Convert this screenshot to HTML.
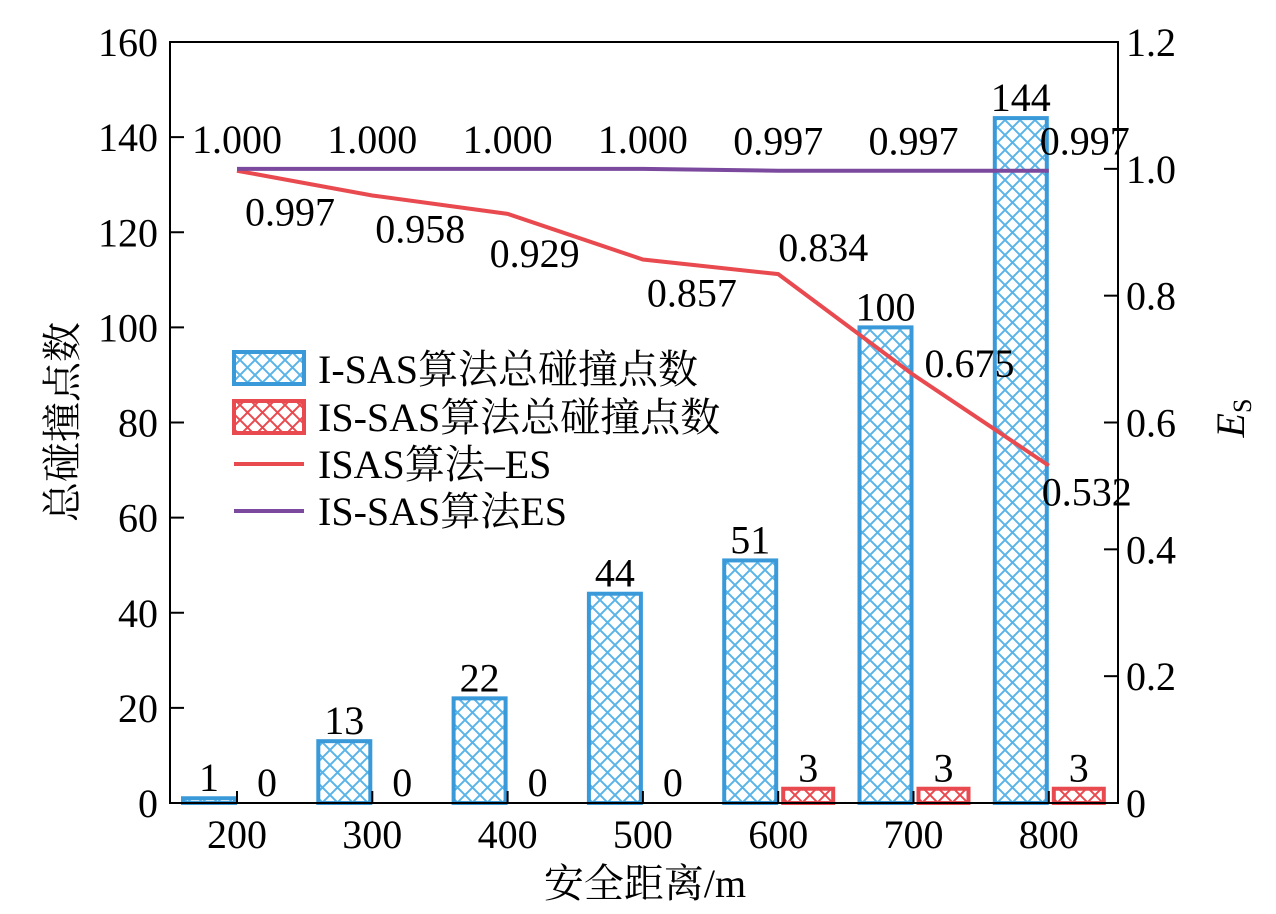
<!DOCTYPE html>
<html><head><meta charset="utf-8"><style>
body{margin:0;background:#fff}
svg text{font-family:"Liberation Serif","Noto Serif CJK SC",serif;fill:#000}
</style></head><body>
<svg id="c" width="1276" height="909" xmlns="http://www.w3.org/2000/svg">
<defs>
<pattern id="hb" width="15" height="15" patternUnits="userSpaceOnUse"><path d="M0,0L15,15M15,0L0,15" stroke="#5ab4e8" stroke-width="2"/></pattern>
<pattern id="hr" width="15" height="15" patternUnits="userSpaceOnUse"><path d="M0,0L15,15M15,0L0,15" stroke="#e84a4f" stroke-width="2"/></pattern>
</defs>
<g id="g"></g>
</svg>
<script>
const categories=[200,300,400,500,600,700,800];
const isasCounts=[1,13,22,44,51,100,144];
const issasCounts=[0,0,0,0,3,3,3];
const isasES=[0.997,0.958,0.929,0.857,0.834,0.675,0.532];
const issasES=[1.000,1.000,1.000,1.000,0.997,0.997,0.997];
const leftTicks=[0,20,40,60,80,100,120,140,160];
const rightTicks=[0,0.2,0.4,0.6,0.8,1.0,1.2];
const L=170,R=1118,T=42,B=803,FS=40;
const X=i=>237+i*135.3;
const YL=v=>B-(v/160)*(B-T);
const YR=v=>B-(v/1.2)*(B-T);
const NS="http://www.w3.org/2000/svg",g=document.getElementById('g');
function mk(t,a,txt){const e=document.createElementNS(NS,t);for(const k in a)e.setAttribute(k,a[k]);if(txt!==undefined)e.textContent=txt;g.appendChild(e);return e;}
categories.forEach((c,i)=>{
 const yb=YL(isasCounts[i]);
 const b=mk('rect',{x:X(i)-54,y:yb,width:52,height:B-yb,fill:'url(#hb)',stroke:'#3a9ad9','stroke-width':4});
 
 
 const t=mk('text',{x:X(i)-28,y:yb-7,'font-size':FS,'text-anchor':'middle'},String(isasCounts[i]));
 
 
 const yr=YL(issasCounts[i]);
 if(issasCounts[i]>0){
  const r=mk('rect',{x:X(i)+5,y:yr,width:50,height:B-yr,fill:'url(#hr)',stroke:'#e84a4f','stroke-width':4});
  
  
 }
 const t2=mk('text',{x:X(i)+30,y:yr-7,'font-size':FS,'text-anchor':'middle'},String(issasCounts[i]));
 
 
});
const pr=mk('polyline',{points:isasES.map((v,i)=>X(i)+','+YR(v)).join(' '),fill:'none',stroke:'#e84a4f','stroke-width':4});


const pp=mk('polyline',{points:issasES.map((v,i)=>X(i)+','+YR(v)).join(' '),fill:'none',stroke:'#7b4a9e','stroke-width':4});


const rOff=[[53,41],[48,33],[27,39],[49,33],[45,-27],[56,-12],[38,26]];
isasES.forEach((v,i)=>{
 const t=mk('text',{x:X(i)+rOff[i][0],y:YR(v)+rOff[i][1]+14,'font-size':FS,'text-anchor':'middle'},v.toFixed(3));
 
 
});
issasES.forEach((v,i)=>{
 const t=mk('text',{x:X(i)+(i==6?36:0),y:YR(v)-16,'font-size':FS,'text-anchor':'middle'},v.toFixed(3));
 
 
});
const fr=mk('rect',{x:L,y:T,width:R-L,height:B-T,fill:'none',stroke:'#000','stroke-width':2});


leftTicks.forEach(v=>{
 const y=YL(v);
 const l=mk('line',{x1:L,x2:L+14,y1:y,y2:y,stroke:'#000','stroke-width':2});
 
 
 const t=mk('text',{x:158,y:y+14,'font-size':FS,'text-anchor':'end'},String(v));
 
 
});
rightTicks.forEach(v=>{
 const y=YR(v);
 const l=mk('line',{x1:R-14,x2:R,y1:y,y2:y,stroke:'#000','stroke-width':2});
 
 
 const t=mk('text',{x:1126,y:y+14,'font-size':FS},v===0?'0':v.toFixed(1));
 
 
});
categories.forEach((c,i)=>{
 const l=mk('line',{x1:X(i),x2:X(i),y1:B,y2:B-12,stroke:'#000','stroke-width':2});
 
 
 const t=mk('text',{x:X(i),y:848,'font-size':FS,'text-anchor':'middle'},String(c));
 
 
});
</script>
<svg style="position:absolute;left:0;top:0" width="1276" height="909" xmlns="http://www.w3.org/2000/svg">
<g font-size="40">
<rect x="234" y="352" width="70" height="32" fill="url(#hb)" stroke="#3a9ad9" stroke-width="4"/>
<text x="318" y="383">I-SAS算法总碰撞点数</text>
<rect x="234" y="401" width="70" height="32" fill="url(#hr)" stroke="#e84a4f" stroke-width="4"/>
<text x="318" y="431">IS-SAS算法总碰撞点数</text>
<line x1="234" x2="304" y1="464" y2="464" stroke="#e84a4f" stroke-width="4"/>
<text x="318" y="478">ISAS算法–ES</text>
<line x1="234" x2="304" y1="511" y2="511" stroke="#7b4a9e" stroke-width="4"/>
<text x="318" y="525">IS-SAS算法ES</text>
</g>
<text font-size="40" text-anchor="middle" transform="translate(76,422) rotate(-90)">总碰撞点数</text>
<text font-size="40" text-anchor="middle" transform="translate(1244,418) rotate(-90)"><tspan font-style="italic">E</tspan><tspan font-size="26" dy="7">S</tspan></text>
<text font-size="40" text-anchor="middle" x="645" y="897">安全距离/m</text>
</svg>
</body></html>
